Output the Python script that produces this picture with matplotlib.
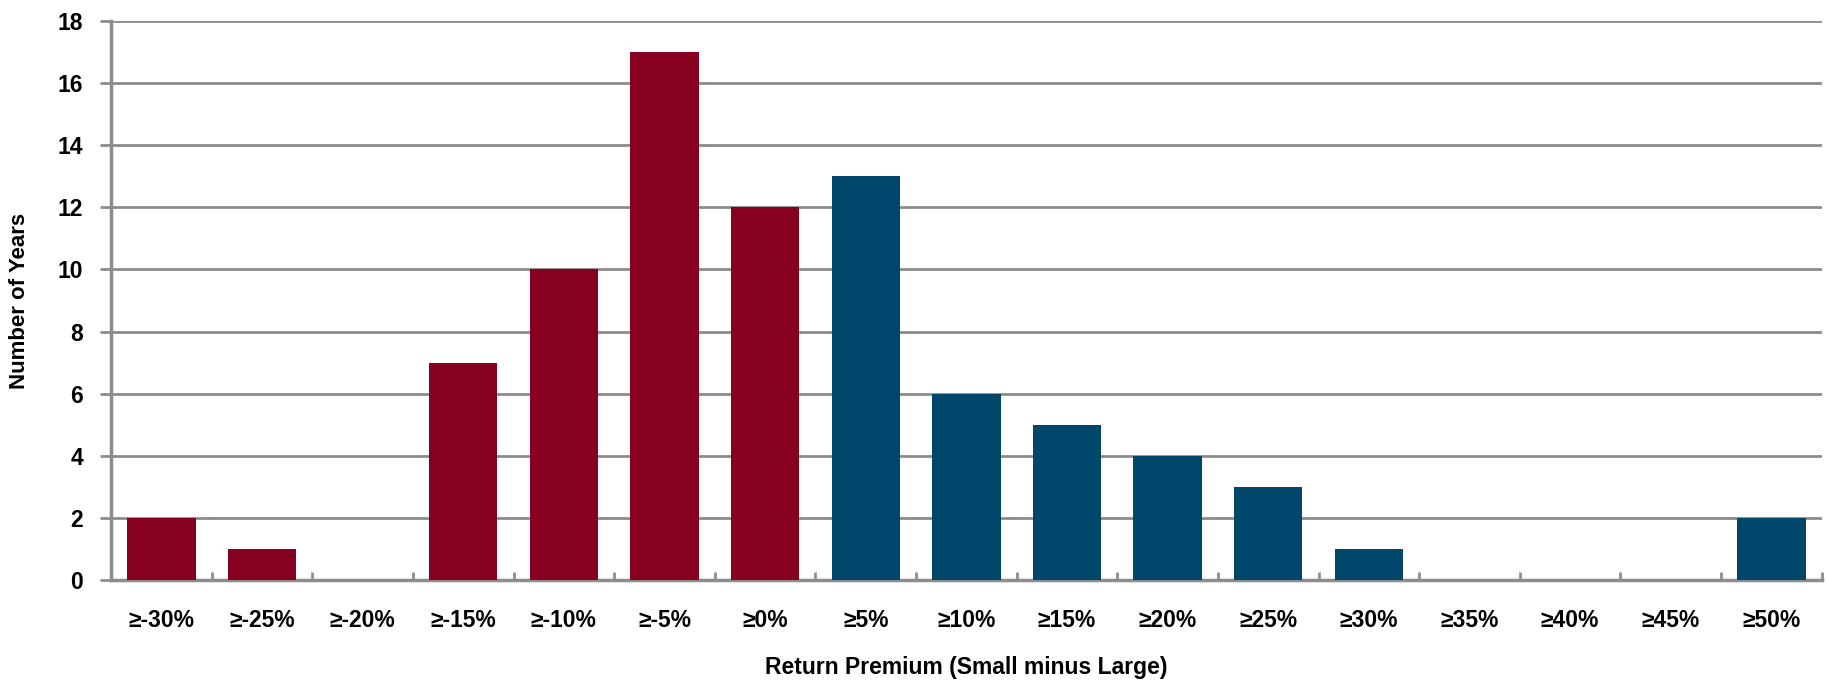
import matplotlib
matplotlib.use('Agg')
import matplotlib.pyplot as plt
import numpy as np

# Data
labels = ['≥-30%', '≥-25%', '≥-20%', '≥-15%', '≥-10%', '≥-5%', '≥0%', '≥5%', '≥10%',
          '≥15%', '≥20%', '≥25%', '≥30%', '≥35%', '≥40%', '≥45%', '≥50%']
years = [2, 1, 0, 7, 10, 17, 12, 13, 6, 5, 4, 3, 1, 0, 0, 0, 2]
negative = [True] * 7 + [False] * 10

red = '#88001F'
blue = '#00476B'
grey = '#8C8C8C'

plt.rcParams['font.family'] = ['Liberation Sans', 'DejaVu Sans']
plt.rcParams['font.weight'] = 'bold'

fig = plt.figure(figsize=(18.29, 6.83), dpi=100)
ax = fig.add_axes([0.0607, 0.151, 0.9353, 0.818])

x = np.arange(len(labels))
colors = [red if n else blue for n in negative]
ax.bar(x, years, width=0.68, color=colors, zorder=3)

ax.set_xlim(-0.5, len(labels) - 0.5)
ax.set_ylim(0, 18)
ax.set_yticks(np.arange(0, 19, 2))
ax.set_xticks(x)
ax.set_xticklabels(labels, fontsize=16.5, fontweight='bold')
ax.set_xticks(np.arange(-0.5, len(labels), 1), minor=True)
ax.tick_params(axis='x', which='major', length=0, pad=21)
ax.tick_params(axis='x', which='minor', direction='in', length=6, width=2, color=grey)
ax.tick_params(axis='y', length=8, width=2, color=grey, pad=12, labelsize=16.5)
for lab in ax.get_yticklabels():
    lab.set_fontweight('bold')

ax.grid(axis='y', color=grey, linewidth=2, zorder=0)
for side in ['top', 'right']:
    ax.spines[side].set_visible(False)
for side in ['left', 'bottom']:
    ax.spines[side].set_color(grey)
    ax.spines[side].set_linewidth(2.5)

ax.set_ylabel('Number of Years', fontsize=16, fontweight='bold', labelpad=20)
ax.set_xlabel('Return Premium (Small minus Large)', fontsize=16.5, fontweight='bold', labelpad=17)

fig.savefig('out.png', dpi=100)
